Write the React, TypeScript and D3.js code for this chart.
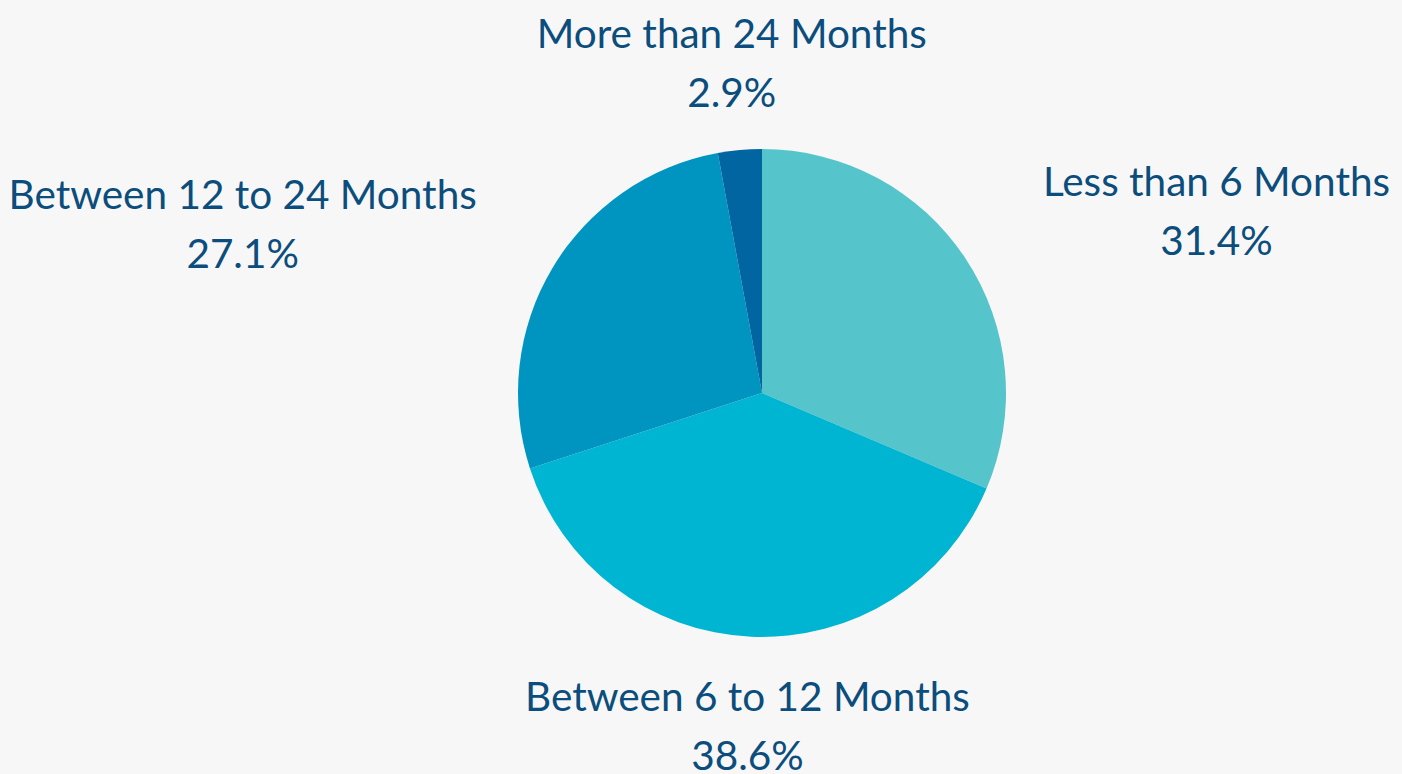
import * as d3 from "d3";
import { useEffect, useRef } from "react";

const categories = [
  "Less than 6 Months",
  "Between 6 to 12 Months",
  "Between 12 to 24 Months",
  "More than 24 Months",
];
const values = [31.4, 38.6, 27.1, 2.9];
const colors = ["#56C4CB", "#00B5D2", "#0094C0", "#0065A0"];

const W = 1402;
const H = 774;

export default function App() {
  const ref = useRef<SVGSVGElement | null>(null);

  useEffect(() => {
    if (!ref.current) return;
    const svg = d3.select(ref.current);
    svg.selectAll("*").remove();

    const cx = 762;
    const cy = 393;
    const r = 244;
    const labelR = 332;

    svg.append("rect").attr("width", W).attr("height", H).attr("fill", "#F7F7F7");

    const pie = d3.pie<number>().sort(null).value(d => d);
    const arcs = pie(values);
    const arc = d3.arc<d3.PieArcDatum<number>>().innerRadius(0).outerRadius(r);
    const labelArc = d3.arc<d3.PieArcDatum<number>>().innerRadius(labelR).outerRadius(labelR);

    const g = svg.append("g").attr("transform", `translate(${cx},${cy})`);

    g.selectAll("path")
      .data(arcs)
      .enter()
      .append("path")
      .attr("d", arc)
      .attr("fill", (_, i) => colors[i]);

    const lineGap = 59;

    arcs.forEach((a, i) => {
      const [lx, ly] = labelArc.centroid(a);
      const mid = (a.startAngle + a.endAngle) / 2;
      const s = Math.sin(mid);

      const t = g.append("g")
        .attr("font-family", "Lato, 'Noto Sans', sans-serif")
        .attr("font-size", 40.5)
        .attr("fill", "#0B4D7C")
        .attr("text-anchor", "middle");

      const l1 = t.append("text")
        .attr("dominant-baseline", "central")
        .attr("y", ly - lineGap / 2)
        .text(categories[i]);
      const l2 = t.append("text")
        .attr("dominant-baseline", "central")
        .attr("y", ly + lineGap / 2)
        .text(`${values[i].toFixed(1)}%`);

      const w = Math.max(
        (l1.node() as SVGTextElement).getComputedTextLength(),
        (l2.node() as SVGTextElement).getComputedTextLength()
      );
      let x = lx;
      if (Math.abs(s) > 0.3) x = s > 0 ? lx + 4 + w / 2 : lx - w / 2;
      l1.attr("x", x);
      l2.attr("x", x);
    });
  }, []);

  return (
    <svg
      ref={ref}
      width={W}
      height={H}
      style={{ position: "absolute", left: 0, top: 0, display: "block" }}
    />
  );
}
